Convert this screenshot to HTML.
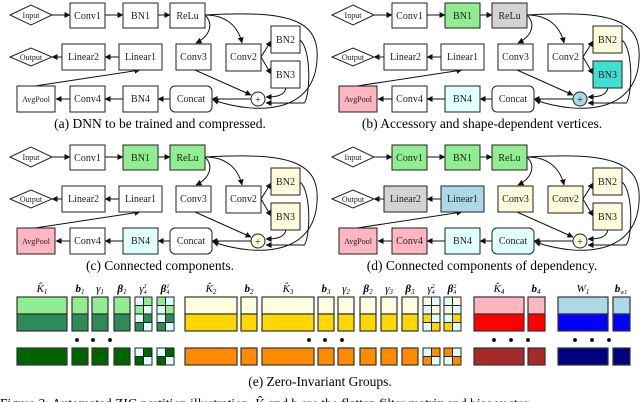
<!DOCTYPE html>
<html><head><meta charset="utf-8"><style>
html,body{margin:0;padding:0;background:#fff;}
svg{display:block;font-family:'Liberation Serif','DejaVu Serif',Times,serif;}
text{font-family:'Liberation Serif','DejaVu Serif',Times,serif;}
.n{font-size:10px;text-anchor:middle;fill:#222;}
.s{font-size:8px;text-anchor:middle;fill:#222;}
.cap{font-size:13.5px;text-anchor:middle;fill:#000;}
.lab{font-size:11px;text-anchor:middle;fill:#000;font-style:italic;}
rect,polygon,circle{stroke:#222;stroke-width:1;}
.e{fill:none;stroke:#111;stroke-width:1;marker-end:url(#ah);}
.b rect{stroke:#333;stroke-width:1.2;}
</style></head><body>
<svg width="640" height="402" viewBox="0 0 640 402" xmlns="http://www.w3.org/2000/svg" font-family="Liberation Serif, DejaVu Serif, serif">
<defs><marker id="ah" markerWidth="6" markerHeight="6" refX="5.5" refY="3" orient="auto" markerUnits="userSpaceOnUse"><path d="M0,0 L6,3 L0,6 z" fill="#111"/></marker></defs>

<!-- Panel A -->
<g transform="translate(0,0)">
<path class="e" d="M52,15 L70,15"/><path class="e" d="M105,15 L123,15"/><path class="e" d="M158,15 L170,15"/>
<path class="e" d="M205,15 C214,24 210,36 196,43"/><path class="e" d="M205,15 C226,15 238,26 242,43"/>
<path class="e" d="M205,15 C290,10 320,20 317,60 C314,112 260,116 213,100"/>
<path class="e" d="M261,57 L271,41"/><path class="e" d="M261,57 L271,74"/>
<path class="e" d="M195,70 L251,95"/><path class="e" d="M286,88 C284,96 276,97 266,97"/>
<path class="e" d="M300,40 C312,50 310,98 304,103 L266,103"/>
<path class="e" d="M251,99 L212,99"/><path class="e" d="M170,99 L158,99"/><path class="e" d="M123,99 L105,99"/><path class="e" d="M70,99 L56,99"/>
<path class="e" d="M35,86 L140,70"/><path class="e" d="M119,57 L105,57"/><path class="e" d="M62,57 L52,57"/>
<polygon points="10,15 31,5 52,15 31,25" fill="#fff"/><text class="s" x="31" y="18">Input</text>
<rect x="70" y="3" width="35" height="25" fill="#fff"/><text class="n" x="87.5" y="19">Conv1</text>
<rect x="123" y="3" width="35" height="25" fill="#fff"/><text class="n" x="140.5" y="19">BN1</text>
<rect x="170" y="3" width="35" height="25" fill="#fff"/><text class="n" x="187.5" y="19">ReLu</text>
<polygon points="10,57 31,48 52,57 31,66" fill="#fff"/><text class="s" x="31" y="60">Output</text>
<rect x="62" y="44" width="43" height="26" fill="#fff"/><text class="n" x="83.5" y="60">Linear2</text>
<rect x="119" y="44" width="43" height="26" fill="#fff"/><text class="n" x="140.5" y="60">Linear1</text>
<rect x="176" y="44" width="35" height="26" fill="#fff"/><text class="n" x="193.5" y="60">Conv3</text>
<rect x="226" y="44" width="35" height="27" fill="#fff"/><text class="n" x="243.5" y="60">Conv2</text>
<rect x="271" y="26" width="29" height="27" fill="#fff"/><text class="n" x="285.5" y="43">BN2</text>
<rect x="271" y="61" width="29" height="27" fill="#fff"/><text class="n" x="285.5" y="78">BN3</text>
<rect x="17" y="86" width="38" height="26" fill="#fff"/><text class="s" x="36" y="102">AvgPool</text>
<rect x="70" y="86" width="35" height="26" fill="#fff"/><text class="n" x="87.5" y="102">Conv4</text>
<rect x="123" y="86" width="35" height="26" fill="#fff"/><text class="n" x="140.5" y="102">BN4</text>
<rect x="170" y="86" width="42" height="26" rx="5" fill="#fff"/><text class="n" x="191" y="102">Concat</text>
<circle cx="258" cy="99" r="7" fill="#fff"/><text class="n" x="258" y="103">+</text>
</g>
<text class="cap" x="160" y="128">(a) DNN to be trained and compressed.</text>

<!-- Panel B -->
<g transform="translate(322,0)">
<path class="e" d="M52,15 L70,15"/><path class="e" d="M105,15 L123,15"/><path class="e" d="M158,15 L170,15"/>
<path class="e" d="M205,15 C214,24 210,36 196,43"/><path class="e" d="M205,15 C226,15 238,26 242,43"/>
<path class="e" d="M205,15 C290,10 320,20 317,60 C314,112 260,116 213,100"/>
<path class="e" d="M261,57 L271,41"/><path class="e" d="M261,57 L271,74"/>
<path class="e" d="M195,70 L251,95"/><path class="e" d="M286,88 C284,96 276,97 266,97"/>
<path class="e" d="M300,40 C312,50 310,98 304,103 L266,103"/>
<path class="e" d="M251,99 L212,99"/><path class="e" d="M170,99 L158,99"/><path class="e" d="M123,99 L105,99"/><path class="e" d="M70,99 L56,99"/>
<path class="e" d="M35,86 L140,70"/><path class="e" d="M119,57 L105,57"/><path class="e" d="M62,57 L52,57"/>
<polygon points="10,15 31,5 52,15 31,25" fill="#fff"/><text class="s" x="31" y="18">Input</text>
<rect x="70" y="3" width="35" height="25" fill="#fff"/><text class="n" x="87.5" y="19">Conv1</text>
<rect x="123" y="3" width="35" height="25" fill="#90ee90"/><text class="n" x="140.5" y="19">BN1</text>
<rect x="170" y="3" width="35" height="25" fill="#d3d3d3"/><text class="n" x="187.5" y="19">ReLu</text>
<polygon points="10,57 31,48 52,57 31,66" fill="#fff"/><text class="s" x="31" y="60">Output</text>
<rect x="62" y="44" width="43" height="26" fill="#fff"/><text class="n" x="83.5" y="60">Linear2</text>
<rect x="119" y="44" width="43" height="26" fill="#fff"/><text class="n" x="140.5" y="60">Linear1</text>
<rect x="176" y="44" width="35" height="26" fill="#fff"/><text class="n" x="193.5" y="60">Conv3</text>
<rect x="226" y="44" width="35" height="27" fill="#fff"/><text class="n" x="243.5" y="60">Conv2</text>
<rect x="271" y="26" width="29" height="27" fill="#fffbdc"/><text class="n" x="285.5" y="43">BN2</text>
<rect x="271" y="61" width="29" height="27" fill="#40e0d0"/><text class="n" x="285.5" y="78">BN3</text>
<rect x="17" y="86" width="38" height="26" fill="#ffb6c1"/><text class="s" x="36" y="102">AvgPool</text>
<rect x="70" y="86" width="35" height="26" fill="#fff"/><text class="n" x="87.5" y="102">Conv4</text>
<rect x="123" y="86" width="35" height="26" fill="#e0ffff"/><text class="n" x="140.5" y="102">BN4</text>
<rect x="170" y="86" width="42" height="26" rx="5" fill="#fff"/><text class="n" x="191" y="102">Concat</text>
<circle cx="258" cy="99" r="7" fill="#add8e6"/><text class="n" x="258" y="103">+</text>
</g>
<text class="cap" x="482" y="128">(b) Accessory and shape-dependent vertices.</text>

<!-- Panel C -->
<g transform="translate(0,142)">
<path class="e" d="M52,15 L70,15"/><path class="e" d="M105,15 L123,15"/><path class="e" d="M158,15 L170,15"/>
<path class="e" d="M205,15 C214,24 210,36 196,43"/><path class="e" d="M205,15 C226,15 238,26 242,43"/>
<path class="e" d="M205,15 C290,10 320,20 317,60 C314,112 260,116 213,100"/>
<path class="e" d="M261,57 L271,41"/><path class="e" d="M261,57 L271,74"/>
<path class="e" d="M195,70 L251,95"/><path class="e" d="M286,88 C284,96 276,97 266,97"/>
<path class="e" d="M300,40 C312,50 310,98 304,103 L266,103"/>
<path class="e" d="M251,99 L212,99"/><path class="e" d="M170,99 L158,99"/><path class="e" d="M123,99 L105,99"/><path class="e" d="M70,99 L56,99"/>
<path class="e" d="M35,86 L140,70"/><path class="e" d="M119,57 L105,57"/><path class="e" d="M62,57 L52,57"/>
<polygon points="10,15 31,5 52,15 31,25" fill="#fff"/><text class="s" x="31" y="18">Input</text>
<rect x="70" y="3" width="35" height="25" fill="#fff"/><text class="n" x="87.5" y="19">Conv1</text>
<rect x="123" y="3" width="35" height="25" fill="#90ee90"/><text class="n" x="140.5" y="19">BN1</text>
<rect x="170" y="3" width="35" height="25" fill="#90ee90"/><text class="n" x="187.5" y="19">ReLu</text>
<polygon points="10,57 31,48 52,57 31,66" fill="#fff"/><text class="s" x="31" y="60">Output</text>
<rect x="62" y="44" width="43" height="26" fill="#fff"/><text class="n" x="83.5" y="60">Linear2</text>
<rect x="119" y="44" width="43" height="26" fill="#fff"/><text class="n" x="140.5" y="60">Linear1</text>
<rect x="176" y="44" width="35" height="26" fill="#fff"/><text class="n" x="193.5" y="60">Conv3</text>
<rect x="226" y="44" width="35" height="27" fill="#fff"/><text class="n" x="243.5" y="60">Conv2</text>
<rect x="271" y="26" width="29" height="27" fill="#fffbdc"/><text class="n" x="285.5" y="43">BN2</text>
<rect x="271" y="61" width="29" height="27" fill="#fffbdc"/><text class="n" x="285.5" y="78">BN3</text>
<rect x="17" y="86" width="38" height="26" fill="#ffb6c1"/><text class="s" x="36" y="102">AvgPool</text>
<rect x="70" y="86" width="35" height="26" fill="#fff"/><text class="n" x="87.5" y="102">Conv4</text>
<rect x="123" y="86" width="35" height="26" fill="#e0ffff"/><text class="n" x="140.5" y="102">BN4</text>
<rect x="170" y="86" width="42" height="26" rx="5" fill="#fff"/><text class="n" x="191" y="102">Concat</text>
<circle cx="258" cy="99" r="7" fill="#fffbdc"/><text class="n" x="258" y="103">+</text>
</g>
<text class="cap" x="160" y="270">(c) Connected components.</text>

<!-- Panel D -->
<g transform="translate(322,142)">
<path class="e" d="M52,15 L70,15"/><path class="e" d="M105,15 L123,15"/><path class="e" d="M158,15 L170,15"/>
<path class="e" d="M205,15 C214,24 210,36 196,43"/><path class="e" d="M205,15 C226,15 238,26 242,43"/>
<path class="e" d="M205,15 C290,10 320,20 317,60 C314,112 260,116 213,100"/>
<path class="e" d="M261,57 L271,41"/><path class="e" d="M261,57 L271,74"/>
<path class="e" d="M195,70 L251,95"/><path class="e" d="M286,88 C284,96 276,97 266,97"/>
<path class="e" d="M300,40 C312,50 310,98 304,103 L266,103"/>
<path class="e" d="M251,99 L212,99"/><path class="e" d="M170,99 L158,99"/><path class="e" d="M123,99 L105,99"/><path class="e" d="M70,99 L56,99"/>
<path class="e" d="M35,86 L140,70"/><path class="e" d="M119,57 L105,57"/><path class="e" d="M62,57 L52,57"/>
<polygon points="10,15 31,5 52,15 31,25" fill="#fff"/><text class="s" x="31" y="18">Input</text>
<rect x="70" y="3" width="35" height="25" fill="#90ee90"/><text class="n" x="87.5" y="19">Conv1</text>
<rect x="123" y="3" width="35" height="25" fill="#90ee90"/><text class="n" x="140.5" y="19">BN1</text>
<rect x="170" y="3" width="35" height="25" fill="#90ee90"/><text class="n" x="187.5" y="19">ReLu</text>
<polygon points="10,57 31,48 52,57 31,66" fill="#fff"/><text class="s" x="31" y="60">Output</text>
<rect x="62" y="44" width="43" height="26" fill="#d3d3d3"/><text class="n" x="83.5" y="60">Linear2</text>
<rect x="119" y="44" width="43" height="26" fill="#add8e6"/><text class="n" x="140.5" y="60">Linear1</text>
<rect x="176" y="44" width="35" height="26" fill="#fffbdc"/><text class="n" x="193.5" y="60">Conv3</text>
<rect x="226" y="44" width="35" height="27" fill="#fffbdc"/><text class="n" x="243.5" y="60">Conv2</text>
<rect x="271" y="26" width="29" height="27" fill="#fffbdc"/><text class="n" x="285.5" y="43">BN2</text>
<rect x="271" y="61" width="29" height="27" fill="#fffbdc"/><text class="n" x="285.5" y="78">BN3</text>
<rect x="17" y="86" width="38" height="26" fill="#ffb6c1"/><text class="s" x="36" y="102">AvgPool</text>
<rect x="70" y="86" width="35" height="26" fill="#ffb6c1"/><text class="n" x="87.5" y="102">Conv4</text>
<rect x="123" y="86" width="35" height="26" fill="#e0ffff"/><text class="n" x="140.5" y="102">BN4</text>
<rect x="170" y="86" width="42" height="26" rx="5" fill="#e0ffff"/><text class="n" x="191" y="102">Concat</text>
<circle cx="258" cy="99" r="7" fill="#fffbdc"/><text class="n" x="258" y="103">+</text>
</g>
<text class="cap" x="482" y="270">(d) Connected components of dependency.</text>

<!-- Panel E -->
<g class="b">
<rect x="17" y="297" width="50" height="17" fill="#90ee90"/><rect x="17" y="314" width="50" height="17" fill="#2e8b57"/><rect x="17" y="348" width="50" height="17" fill="#006400"/>
<rect x="72" y="297" width="16" height="17" fill="#90ee90"/><rect x="72" y="314" width="16" height="17" fill="#2e8b57"/><rect x="72" y="348" width="16" height="17" fill="#006400"/>
<rect x="92" y="297" width="16" height="17" fill="#90ee90"/><rect x="92" y="314" width="16" height="17" fill="#2e8b57"/><rect x="92" y="348" width="16" height="17" fill="#006400"/>
<rect x="114" y="297" width="16" height="17" fill="#90ee90"/><rect x="114" y="314" width="16" height="17" fill="#2e8b57"/><rect x="114" y="348" width="16" height="17" fill="#006400"/>
<rect x="185" y="297" width="52" height="17" fill="#fffde0"/><rect x="185" y="314" width="52" height="17" fill="#ffd700"/><rect x="185" y="348" width="52" height="17" fill="#ff8c00"/>
<rect x="241" y="297" width="16" height="17" fill="#fffde0"/><rect x="241" y="314" width="16" height="17" fill="#ffd700"/><rect x="241" y="348" width="16" height="17" fill="#ff8c00"/>
<rect x="262" y="297" width="52" height="17" fill="#fffde0"/><rect x="262" y="314" width="52" height="17" fill="#ffd700"/><rect x="262" y="348" width="52" height="17" fill="#ff8c00"/>
<rect x="318" y="297" width="16" height="17" fill="#fffde0"/><rect x="318" y="314" width="16" height="17" fill="#ffd700"/><rect x="318" y="348" width="16" height="17" fill="#ff8c00"/>
<rect x="338" y="297" width="16" height="17" fill="#fffde0"/><rect x="338" y="314" width="16" height="17" fill="#ffd700"/><rect x="338" y="348" width="16" height="17" fill="#ff8c00"/>
<rect x="360" y="297" width="16" height="17" fill="#fffde0"/><rect x="360" y="314" width="16" height="17" fill="#ffd700"/><rect x="360" y="348" width="16" height="17" fill="#ff8c00"/>
<rect x="381" y="297" width="16" height="17" fill="#fffde0"/><rect x="381" y="314" width="16" height="17" fill="#ffd700"/><rect x="381" y="348" width="16" height="17" fill="#ff8c00"/>
<rect x="402" y="297" width="16" height="17" fill="#fffde0"/><rect x="402" y="314" width="16" height="17" fill="#ffd700"/><rect x="402" y="348" width="16" height="17" fill="#ff8c00"/>
<rect x="474" y="297" width="50" height="17" fill="#ffb6c1"/><rect x="474" y="314" width="50" height="17" fill="#ff0000"/><rect x="474" y="348" width="50" height="17" fill="#a52a2a"/>
<rect x="528" y="297" width="17" height="17" fill="#ffb6c1"/><rect x="528" y="314" width="17" height="17" fill="#ff0000"/><rect x="528" y="348" width="17" height="17" fill="#a52a2a"/>
<rect x="558" y="297" width="50" height="17" fill="#add8e6"/><rect x="558" y="314" width="50" height="17" fill="#0000ff"/><rect x="558" y="348" width="50" height="17" fill="#000080"/>
<rect x="613" y="297" width="17" height="17" fill="#add8e6"/><rect x="613" y="314" width="17" height="17" fill="#0000ff"/><rect x="613" y="348" width="17" height="17" fill="#000080"/>
</g>
<g stroke="none">
<rect x="135" y="297" width="8.5" height="8.5" fill="#e0ffff"/><rect x="143.5" y="297" width="8.5" height="8.5" fill="#90ee90"/>
<rect x="135" y="305.5" width="8.5" height="8.5" fill="#90ee90"/><rect x="143.5" y="305.5" width="8.5" height="8.5" fill="#e0ffff"/>
<rect x="135" y="314" width="8.5" height="8.5" fill="#e0ffff"/><rect x="143.5" y="314" width="8.5" height="8.5" fill="#2e8b57"/>
<rect x="135" y="322.5" width="8.5" height="8.5" fill="#2e8b57"/><rect x="143.5" y="322.5" width="8.5" height="8.5" fill="#e0ffff"/>
<rect x="135" y="348" width="8.5" height="8.5" fill="#e0ffff"/><rect x="143.5" y="348" width="8.5" height="8.5" fill="#006400"/>
<rect x="135" y="356.5" width="8.5" height="8.5" fill="#006400"/><rect x="143.5" y="356.5" width="8.5" height="8.5" fill="#e0ffff"/>
<rect x="157" y="297" width="8.5" height="8.5" fill="#90ee90"/><rect x="165.5" y="297" width="8.5" height="8.5" fill="#e0ffff"/>
<rect x="157" y="305.5" width="8.5" height="8.5" fill="#e0ffff"/><rect x="165.5" y="305.5" width="8.5" height="8.5" fill="#90ee90"/>
<rect x="157" y="314" width="8.5" height="8.5" fill="#e0ffff"/><rect x="165.5" y="314" width="8.5" height="8.5" fill="#2e8b57"/>
<rect x="157" y="322.5" width="8.5" height="8.5" fill="#2e8b57"/><rect x="165.5" y="322.5" width="8.5" height="8.5" fill="#e0ffff"/>
<rect x="157" y="348" width="8.5" height="8.5" fill="#e0ffff"/><rect x="165.5" y="348" width="8.5" height="8.5" fill="#006400"/>
<rect x="157" y="356.5" width="8.5" height="8.5" fill="#006400"/><rect x="165.5" y="356.5" width="8.5" height="8.5" fill="#e0ffff"/>
<rect x="423" y="297" width="8.5" height="8.5" fill="#fffde0"/><rect x="431.5" y="297" width="8.5" height="8.5" fill="#e0ffff"/>
<rect x="423" y="305.5" width="8.5" height="8.5" fill="#e0ffff"/><rect x="431.5" y="305.5" width="8.5" height="8.5" fill="#fffde0"/>
<rect x="423" y="314" width="8.5" height="8.5" fill="#ffd700"/><rect x="431.5" y="314" width="8.5" height="8.5" fill="#e0ffff"/>
<rect x="423" y="322.5" width="8.5" height="8.5" fill="#e0ffff"/><rect x="431.5" y="322.5" width="8.5" height="8.5" fill="#ffd700"/>
<rect x="423" y="348" width="8.5" height="8.5" fill="#e0ffff"/><rect x="431.5" y="348" width="8.5" height="8.5" fill="#ff8c00"/>
<rect x="423" y="356.5" width="8.5" height="8.5" fill="#ff8c00"/><rect x="431.5" y="356.5" width="8.5" height="8.5" fill="#e0ffff"/>
<rect x="444" y="297" width="8.5" height="8.5" fill="#e0ffff"/><rect x="452.5" y="297" width="8.5" height="8.5" fill="#fffde0"/>
<rect x="444" y="305.5" width="8.5" height="8.5" fill="#fffde0"/><rect x="452.5" y="305.5" width="8.5" height="8.5" fill="#e0ffff"/>
<rect x="444" y="314" width="8.5" height="8.5" fill="#e0ffff"/><rect x="452.5" y="314" width="8.5" height="8.5" fill="#ffd700"/>
<rect x="444" y="322.5" width="8.5" height="8.5" fill="#ffd700"/><rect x="452.5" y="322.5" width="8.5" height="8.5" fill="#e0ffff"/>
<rect x="444" y="348" width="8.5" height="8.5" fill="#ff8c00"/><rect x="452.5" y="348" width="8.5" height="8.5" fill="#e0ffff"/>
<rect x="444" y="356.5" width="8.5" height="8.5" fill="#e0ffff"/><rect x="452.5" y="356.5" width="8.5" height="8.5" fill="#ff8c00"/>
</g>
<g fill="none" stroke="#333" stroke-width="1.2">
<rect x="135" y="297" width="17" height="34"/><rect x="135" y="348" width="17" height="17"/><line x1="135" y1="314" x2="152" y2="314"/>
<rect x="157" y="297" width="17" height="34"/><rect x="157" y="348" width="17" height="17"/><line x1="157" y1="314" x2="174" y2="314"/>
<rect x="423" y="297" width="17" height="34"/><rect x="423" y="348" width="17" height="17"/><line x1="423" y1="314" x2="440" y2="314"/>
<rect x="444" y="297" width="17" height="34"/><rect x="444" y="348" width="17" height="17"/><line x1="444" y1="314" x2="461" y2="314"/>
</g>
<g fill="#000">
<circle cx="77" cy="340" r="1.5" stroke="none"/><circle cx="93" cy="340" r="1.5" stroke="none"/><circle cx="110" cy="340" r="1.5" stroke="none"/>
<circle cx="309" cy="340" r="1.5" stroke="none"/><circle cx="325" cy="340" r="1.5" stroke="none"/><circle cx="342" cy="340" r="1.5" stroke="none"/>
<circle cx="494" cy="340" r="1.5" stroke="none"/><circle cx="511" cy="340" r="1.5" stroke="none"/><circle cx="528" cy="340" r="1.5" stroke="none"/>
<circle cx="575" cy="340" r="1.5" stroke="none"/><circle cx="592" cy="340" r="1.5" stroke="none"/><circle cx="609" cy="340" r="1.5" stroke="none"/>
</g>
<text class="lab" x="42" y="292">K̂<tspan font-size="7" dy="2">1</tspan></text>
<text class="lab" x="80" y="292" font-weight="bold">b<tspan font-size="7" dy="2" font-weight="normal">1</tspan></text>
<text class="lab" x="100" y="292">γ<tspan font-size="7" dy="2">1</tspan></text>
<text class="lab" x="122" y="292" font-weight="bold">β<tspan font-size="7" dy="2" font-weight="normal">1</tspan></text>
<text class="lab" x="143" y="292">γ<tspan font-size="6" dy="-4">1</tspan><tspan font-size="6" dx="-3" dy="6">4</tspan></text>
<text class="lab" x="165" y="292" font-weight="bold">β<tspan font-size="6" dy="-4" font-weight="normal">1</tspan><tspan font-size="6" dx="-3" dy="6" font-weight="normal">4</tspan></text>
<text class="lab" x="211" y="292">K̂<tspan font-size="7" dy="2">2</tspan></text>
<text class="lab" x="249" y="292" font-weight="bold">b<tspan font-size="7" dy="2" font-weight="normal">2</tspan></text>
<text class="lab" x="288" y="292">K̂<tspan font-size="7" dy="2">3</tspan></text>
<text class="lab" x="326" y="292" font-weight="bold">b<tspan font-size="7" dy="2" font-weight="normal">3</tspan></text>
<text class="lab" x="346" y="292">γ<tspan font-size="7" dy="2">2</tspan></text>
<text class="lab" x="368" y="292" font-weight="bold">β<tspan font-size="7" dy="2" font-weight="normal">2</tspan></text>
<text class="lab" x="389" y="292">γ<tspan font-size="7" dy="2">3</tspan></text>
<text class="lab" x="410" y="292" font-weight="bold">β<tspan font-size="7" dy="2" font-weight="normal">3</tspan></text>
<text class="lab" x="431" y="292">γ<tspan font-size="6" dy="-4">2</tspan><tspan font-size="6" dx="-3" dy="6">4</tspan></text>
<text class="lab" x="452" y="292" font-weight="bold">β<tspan font-size="6" dy="-4" font-weight="normal">2</tspan><tspan font-size="6" dx="-3" dy="6" font-weight="normal">4</tspan></text>
<text class="lab" x="499" y="292">K̂<tspan font-size="7" dy="2">4</tspan></text>
<text class="lab" x="536" y="292" font-weight="bold">b<tspan font-size="7" dy="2" font-weight="normal">4</tspan></text>
<text class="lab" x="583" y="292">W<tspan font-size="7" dy="2">1</tspan></text>
<text class="lab" x="621" y="292" font-weight="bold">b<tspan font-size="6" dy="2" font-weight="normal">w1</tspan></text>
<text class="cap" x="320" y="386">(e) Zero-Invariant Groups.</text>
<text class="cap" x="0" y="408" style="text-anchor:start">Figure 2: Automated ZIG partition illustration. K̂ and b are the flatten filter matrix and bias vector.</text>
</svg>
</body></html>
